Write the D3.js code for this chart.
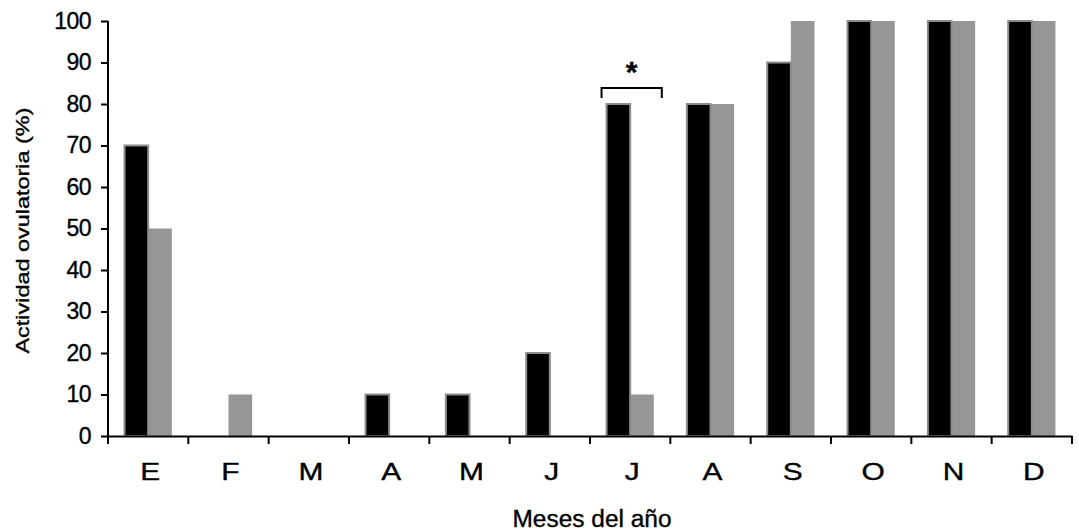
<!DOCTYPE html>
<html>
<head>
<meta charset="utf-8">
<script src="https://cdn.jsdelivr.net/npm/d3@7"></script>
<style>
  body { margin: 0; background: #fff; }
  svg { display: block; font-family: "Liberation Sans", Arial, sans-serif; }
  svg text { stroke: #000; stroke-width: 0.35px; }
</style>
</head>
<body>
<svg id="chart"></svg>
<script>
// data
const months = ['E', 'F', 'M', 'A', 'M', 'J', 'J', 'A', 'S', 'O', 'N', 'D'];
const seriesA = [70, 0, 0, 10, 10, 20, 80, 80, 90, 100, 100, 100];   // black
const seriesB = [50, 10, 0, 0, 0, 0, 10, 80, 100, 100, 100, 100];    // grey
const yTicks = [0, 10, 20, 30, 40, 50, 60, 70, 80, 90, 100];
const starMonth = 6; // bracket with asterisk over July

const w = 1079, h = 531;
const margin = { top: 21, right: 7, bottom: 95, left: 108 };

const svg = d3.select('#chart').attr('width', w).attr('height', h);

// months repeat letters, so the band scale works on indices
const x0 = d3.scaleBand()
    .domain(d3.range(months.length))
    .range([margin.left, w - margin.right])
    .padding(0);
const x1 = d3.scaleBand()
    .domain(['a', 'b'])
    .range([0, x0.bandwidth()])
    .paddingInner(0)
    .paddingOuter(0.7);
const y = d3.scaleLinear().domain([0, 100]).range([h - margin.bottom, margin.top]);

const rows = months.map((m, i) => ({ i, a: seriesA[i], b: seriesB[i] }));

// grey bars first, then black bars with grey outline on top
svg.append('g').selectAll('rect')
    .data(rows.filter(d => d.b > 0))
    .join('rect')
    .attr('x', d => x0(d.i) + x1('b'))
    .attr('y', d => y(d.b))
    .attr('width', x1.bandwidth())
    .attr('height', d => y(0) - y(d.b))
    .attr('fill', '#969696');

svg.append('g').selectAll('rect')
    .data(rows.filter(d => d.a > 0))
    .join('rect')
    .attr('x', d => x0(d.i) + x1('a'))
    .attr('y', d => y(d.a))
    .attr('width', x1.bandwidth())
    .attr('height', d => y(0) - y(d.a))
    .attr('fill', '#000')
    .attr('stroke', '#8c8c8c')
    .attr('stroke-width', 2);

// y axis
const yAxis = svg.append('g')
    .attr('transform', `translate(${margin.left},0)`)
    .call(d3.axisLeft(y).tickValues(yTicks).tickSize(7).tickPadding(10));
yAxis.select('.domain').attr('stroke-width', 2).attr('d', `M0,${y(100)}V${y(0)}`);
yAxis.selectAll('.tick line').attr('stroke-width', 2);
yAxis.selectAll('.tick text')
    .attr('font-size', 23)
    .attr('letter-spacing', -0.5)
    .attr('fill', '#000');

// x axis
const xAxis = svg.append('g')
    .attr('transform', `translate(0,${y(0)})`)
    .call(d3.axisBottom(x0).tickValues([]).tickSizeOuter(0));
xAxis.select('.domain').attr('stroke-width', 2);
// category boundaries
xAxis.selectAll('line.sep')
    .data(d3.range(months.length + 1))
    .join('line')
    .attr('class', 'sep')
    .attr('x1', i => i < months.length ? x0(i) : x0(i - 1) + x0.bandwidth())
    .attr('x2', i => i < months.length ? x0(i) : x0(i - 1) + x0.bandwidth())
    .attr('y1', 0).attr('y2', 8)
    .attr('stroke', '#000').attr('stroke-width', 2);
xAxis.selectAll('text.lbl')
    .data(rows)
    .join('text')
    .attr('class', 'lbl')
    .attr('transform', d => `translate(${x0(d.i) + x0.bandwidth() / 2 + 2},44) scale(1.3,1)`)
    .attr('text-anchor', 'middle')
    .attr('font-size', 23)
    .attr('fill', '#000')
    .text(d => months[d.i]);

// axis titles
svg.append('text')
    .attr('x', (margin.left + w - margin.right) / 2 + 2)
    .attr('y', 527)
    .attr('text-anchor', 'middle')
    .attr('font-size', 23)
    .attr('textLength', 159)
    .attr('lengthAdjust', 'spacingAndGlyphs')
    .text('Meses del año');

svg.append('text')
    .attr('transform', `translate(29,${(y(0) + y(100)) / 2 + 2}) rotate(-90)`)
    .attr('text-anchor', 'middle')
    .attr('font-size', 19)
    .attr('textLength', 246)
    .attr('lengthAdjust', 'spacingAndGlyphs')
    .text('Actividad ovulatoria (%)');

// significance bracket
const bx = x0(starMonth) + x1('a');
const bLeft = bx - 5, bRight = bx + 2 * x1.bandwidth() + 8;
const bTop = y(seriesA[starMonth]) - 16;
svg.append('path')
    .attr('d', `M${bLeft},${bTop + 10}V${bTop}H${bRight}V${bTop + 10}`)
    .attr('fill', 'none')
    .attr('stroke', '#000')
    .attr('stroke-width', 2);
svg.append('text')
    .attr('x', (bLeft + bRight) / 2)
    .attr('y', bTop - 6)
    .attr('text-anchor', 'middle')
    .attr('font-size', 30)
    .attr('font-weight', 'bold')
    .text('*');
</script>
</body>
</html>
